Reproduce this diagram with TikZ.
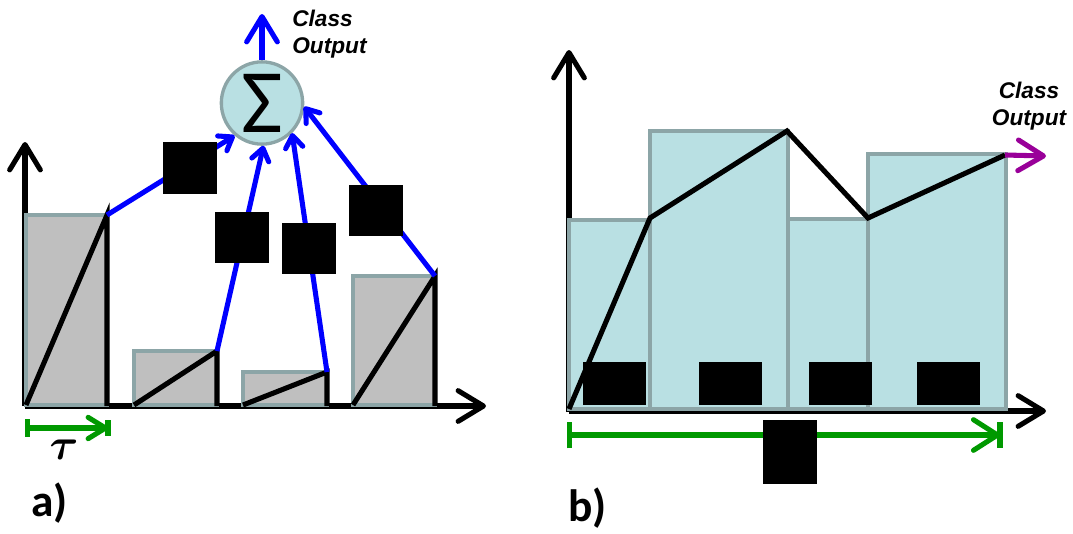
\documentclass[tikz,border=0pt]{standalone}
\usepackage{fontspec}
\usepackage{bm}
\usetikzlibrary{arrows.meta,shapes.geometric}
\newfontfamily\sumfont{Carlito}
\newfontfamily\tagfont{Liberation Sans}
\definecolor{barblue}{RGB}{185,224,227}
\definecolor{bargray}{RGB}{191,191,191}
\definecolor{edgegray}{RGB}{140,165,167}
\definecolor{spangreen}{RGB}{0,153,0}
\definecolor{outpurple}{RGB}{153,0,153}

\begin{document}
\begin{tikzpicture}[x=0.75pt,y=-0.75pt,
    axisline/.style={line width=3.8pt, -{Straight Barb[length=19pt,width=23pt,round]}},
    graybar/.style={fill=bargray, draw=edgegray, line width=2.5pt},
    tealbar/.style={fill=barblue, draw=edgegray, line width=2.5pt},
    ramp/.style={line width=3.8pt},
    bluecon/.style={draw=blue, line width=3.8pt, -{Straight Barb[length=9pt,width=13pt,round]}},
    sumnode/.style={ellipse, fill=barblue, draw=edgegray, line width=2.5pt, inner sep=0pt,
      minimum width=61pt, minimum height=56pt},
    classtext/.style={font=\tagfont\bfseries\itshape\fontsize{17}{20}\selectfont, inner sep=0pt},
    paneltag/.style={font=\sumfont\bfseries\fontsize{34}{34}\selectfont, inner sep=0pt},
    hidebox/.style={fill=black}]
  \useasboundingbox (0,0) rectangle (1073,533);

  % (a) Draw axes
  \draw[axisline] (25,406) -- (25,142);
  \draw[axisline] (25,406) -- (486,406);

  % bars with their ramps
  \foreach \xa/\xb/\yt [count=\i] in {26/107/215, 134/217/351, 243/327/372, 353/435/276}
  {
    \draw[graybar] (\xa,405) rectangle (\xb,\yt);
    \draw[ramp] (\xa,405) -- (\xb,\yt) -- (\xb,406);
    \coordinate (t\i) at (\xb,\yt);
  }

  % summing node
  \node[sumnode] (sum) at (262,103) {\sumfont\fontsize{68}{68}\selectfont Σ};
  \coordinate (outa) at (262,14);
  \draw[draw=blue, line width=3.8pt, -{Straight Barb[length=19pt,width=23pt,round]}] (sum.north) -- (outa);
  \node[classtext, anchor=west, align=left] (classa) at (292,34) {Class\\Output};

  \draw[bluecon] (t1) -- (sum.230);
  \draw[bluecon] (t2) -- (sum.272);
  \draw[bluecon] (t3) -- (sum.315);
  \draw[bluecon] (t4) -- (sum.355);

  % weights
  \fill[hidebox] (163,142) rectangle (217,194);
  \fill[hidebox] (215,212) rectangle (269,263);
  \fill[hidebox] (282,223) rectangle (336,274);
  \fill[hidebox] (349,185) rectangle (403,236);

  % time step
  \coordinate (ta) at (25,428);
  \coordinate (tb) at (108,428);
  \draw[spangreen, line width=3.8pt, {Bar[width=13pt]}-{Straight Barb[length=13pt,width=16pt,round]}] (ta) -- (tb);
  \draw[spangreen, line width=3.8pt] (tb) ++(0,-8) -- ++(0,16);
  \node (tau) at (64,450) {\scalebox{3.3}{$\bm{\tau}$}};

  \node[paneltag, anchor=base west] (taga) at (31,516) {a)};

  % (b) Draw axes
  \draw[axisline] (569,412) -- (569,50);
  \draw[axisline] (569,411) -- (1046,411);

  \foreach \xa/\xb/\yt in {569/650/220, 650/788/131, 788/868/219, 868/1006/154}
    \draw[tealbar] (\xa,409) rectangle (\xb,\yt);

  \draw[ramp] (569,409) -- (650,218) -- (787,131) -- (868,218) -- (1005,155) coordinate (lineend);
  \coordinate (outb) at (1046,156);
  \draw[outpurple, line width=3.8pt, -{Straight Barb[length=19pt,width=23pt,round]}] (lineend) -- (outb);
  \node[classtext, align=center] (classb) at (1029,106) {Class\\Output};

  % bin labels
  \foreach \xa in {583,699,809,917}
    \fill[hidebox] (\xa,362) rectangle (\xa+63,405);

  % whole window
  \coordinate (sa) at (567,435);
  \coordinate (sb) at (1000,435);
  \draw[spangreen, line width=3.8pt, {Bar[width=20pt]}-{Straight Barb[length=18pt,width=23pt,round]}] (sa) -- (sb);
  \draw[spangreen, line width=3.8pt] (sb) ++(0,-13) -- ++(0,26);
  \fill[hidebox] (763,420) rectangle (817,484);

  \node[paneltag, anchor=base west] (tagb) at (568,521) {b)};
\end{tikzpicture}
\end{document}
